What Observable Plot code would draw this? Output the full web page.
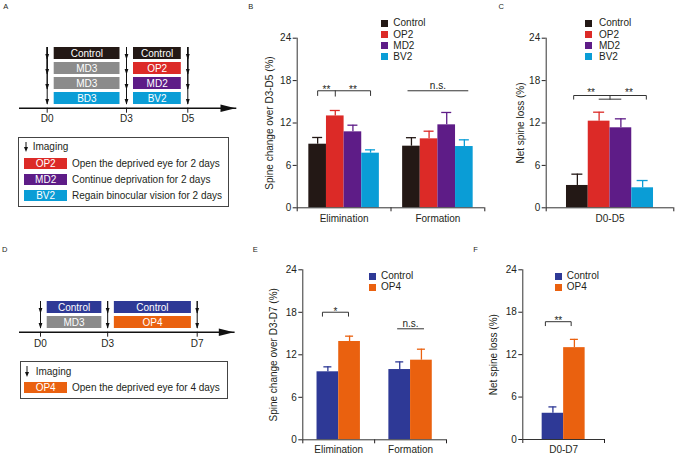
<!DOCTYPE html>
<html><head><meta charset="utf-8">
<script src="https://cdn.jsdelivr.net/npm/d3@7"></script>
<script src="https://cdn.jsdelivr.net/npm/@observablehq/plot@0.6"></script>
<style>
html,body{margin:0;padding:0;background:#fff;}
#fig{position:relative;width:675px;height:455px;overflow:hidden;font-family:"Liberation Sans",Arial,Helvetica,sans-serif;color:#231f20;}
#fig svg{position:absolute;overflow:visible;}
.t{position:absolute;white-space:nowrap;}
</style></head><body><div id="fig"></div>
<script>
// ---------------- data ----------------
const daysA = [0, 3, 5];
const rowsA = [0, 1, 2, 3];
const phase1A = ["Control", "MD3", "MD3", "BD3"];
const phase2A = ["Control", "OP2", "MD2", "BV2"];
const legendKeysA = ["OP2", "MD2", "BV2"];
const legendDescA = ["Open the deprived eye for 2 days", "Continue deprivation for 2 days", "Regain binocular vision for 2 days"];

const daysD = [0, 3, 7];
const rowsD = [0, 1];
const phase1D = ["Control", "MD3"];
const phase2D = ["Control", "OP4"];
const legendKeysD = ["OP4"];
const legendDescD = ["Open the deprived eye for 4 days"];

const groupsBE = ["Elimination", "Formation"];
const condsB = ["Control", "OP2", "MD2", "BV2"];
const elimB = [9.0, 13.0, 10.75, 7.73];
const elimSemB = [0.95, 0.77, 0.94, 0.47];
const formB = [8.72, 9.76, 11.74, 8.67];
const formSemB = [1.2, 1.08, 1.75, 0.95];

const groupC = ["D0-D5"];
const lossC = [3.16, 12.26, 11.32, 2.83];
const lossSemC = [1.6, 1.27, 1.27, 1.03];

const condsE = ["Control", "OP4"];
const elimE = [9.6, 13.88];
const elimSemE = [0.7, 0.75];
const formE = [9.92, 11.24];
const formSemE = [1.08, 1.55];

const groupF = ["D0-D7"];
const lossF = [3.71, 12.99];
const lossSemF = [0.9, 1.17];

const yTicks = [0, 6, 12, 18, 24];

// significance brackets: group, [bar index, value] path
const bracketsB = [
  {group: 0, path: [[0, 15.89], [0, 16.56], [3, 16.56], [3, 15.89]]},
  {group: 0, path: [[1, 16.56], [1, 15.8]]},
  {group: 1, path: [[-0.2, 16.56], [3.2, 16.56]]}
];
const sigB = [
  {group: 0, at: 0.5, y: 16.75, label: "**"},
  {group: 0, at: 2, y: 16.75, label: "**"},
  {group: 1, at: 1.5, y: 17.3, label: "n.s."}
];
const bracketsC = [
  {group: 0, path: [[-0.17, 15.37], [-0.17, 15.89], [3.17, 15.89], [3.17, 15.37]]},
  {group: 0, path: [[1.5, 15.89], [1.5, 15.37]]},
  {group: 0, path: [[1, 15.37], [2, 15.37]]}
];
const sigC = [
  {group: 0, at: 0.63, y: 16.24, label: "**"},
  {group: 0, at: 2.37, y: 16.24, label: "**"}
];
const bracketsE = [
  {group: 0, path: [[-0.25, 17.45], [-0.25, 18.01], [0.95, 18.01], [0.95, 17.45]]},
  {group: 1, path: [[-0.1, 15.67], [1.1, 15.67]]}
];
const sigE = [
  {group: 0, at: 0.35, y: 18.1, label: "*"},
  {group: 1, at: 0.5, y: 16.35, label: "n.s."}
];
const bracketsF = [
  {group: 0, path: [[-0.35, 16.1], [-0.35, 16.66], [0.85, 16.66], [0.85, 16.1]]}
];
const sigF = [
  {group: 0, at: 0.25, y: 16.76, label: "**"}
];

// ---------------- styles ----------------
const colorsA = {Control: "#231815", MD3: "#8b8b8b", OP2: "#dc2a27", MD2: "#5e1c87", BD3: "#0a9dd6", BV2: "#0a9dd6"};
const colorsD = {Control: "#2e3996", MD3: "#8b8b8b", OP4: "#ea610f"};
const INK = "#231f20";
const AXIS = "#333333";
const FONT = '"Liberation Sans", Arial, Helvetica, sans-serif';
const fig = document.getElementById("fig");
const plotStyle = {fontFamily: FONT, fontSize: "10px", color: INK, background: "transparent", overflow: "visible"};

function put(svg, left, top) {
  svg.style.position = "absolute";
  svg.style.left = left + "px";
  svg.style.top = top + "px";
  fig.appendChild(svg);
}
function txt(s, x, cy, {size = 10, anchor = "start", color = INK} = {}) {
  const d = document.createElement("div");
  d.className = "t";
  d.textContent = s;
  d.style.fontSize = size + "px";
  d.style.lineHeight = size + "px";
  d.style.height = size + "px";
  d.style.color = color;
  d.style.top = (cy - size / 2) + "px";
  if (anchor === "middle") { d.style.left = (x - 100) + "px"; d.style.width = "200px"; d.style.textAlign = "center"; }
  else d.style.left = x + "px";
  fig.appendChild(d);
  return d;
}
function box(x, y, w, h, css) {
  const d = document.createElement("div");
  d.style.cssText = `position:absolute;left:${x}px;top:${y}px;width:${w}px;height:${h}px;box-sizing:border-box;${css}`;
  fig.appendChild(d);
  return d;
}
function arrowIcon(x, y1, y2) {
  const s = d3.create("svg").attr("width", 8).attr("height", y2 - y1 + 2);
  const h = y2 - y1;
  s.append("line").attr("x1", 4).attr("x2", 4).attr("y1", 0).attr("y2", h - 3).attr("stroke", "#111").attr("stroke-width", 1);
  s.append("path").attr("d", `M2,${h - 5}L6,${h - 5}L4,${h}Z`).attr("fill", "#111");
  put(s.node(), x - 4, y1);
}

const headSym = {draw(ctx) { ctx.moveTo(-1.9, 0.4); ctx.lineTo(1.9, 0.4); ctx.lineTo(0, 6.2); ctx.closePath(); }};
const bigHead = {draw(ctx) { ctx.moveTo(0, 0); ctx.lineTo(-15, -3.8); ctx.lineTo(-15, 3.8); ctx.closePath(); }};

// ---------------- schematic panels ----------------
function schematic(o) {
  const boxes = o.rows.flatMap(r => [
    {row: r, from: o.days[0], to: o.days[1], label: o.phase1[r]},
    {row: r, from: o.days[1], to: o.days[2], label: o.phase2[r]}
  ]);
  const imaging = o.rows.flatMap(r => o.days.map(d => ({row: r, day: d})));
  const svg = Plot.plot({
    width: o.width, height: o.height,
    marginLeft: o.ml, marginRight: o.mr, marginTop: o.mt, marginBottom: o.mb,
    style: plotStyle,
    x: {type: "linear", domain: o.xDomain, range: o.xRange, ticks: o.days, tickFormat: d => "D" + d, tickSize: 5, tickPadding: o.tickPad, label: null},
    y: {type: "band", domain: o.rows, paddingInner: o.pi, paddingOuter: o.po, axis: null},
    color: {type: "identity"},
    marks: [
      Plot.frame({anchor: "bottom", stroke: "#111", strokeWidth: 1.6}),
      Plot.barX(boxes, {x1: "from", x2: "to", y: "row", fill: d => o.colors[d.label], insetLeft: o.insL, insetRight: o.insR}),
      Plot.text(boxes, {x: d => (d.from + d.to) / 2, y: "row", text: "label", fill: "white", fontSize: 10}),
      Plot.ruleX(imaging, {x: "day", y: "row", stroke: "#111", strokeWidth: 1}),
      Plot.dot(imaging, {x: "day", y: "row", symbol: headSym, fill: "#111", stroke: "none"}),
      Plot.dot([0], {frameAnchor: "bottom-right", symbol: bigHead, fill: "#111", stroke: "none"})
    ]
  });
  put(svg, o.left, o.top);
}

schematic({left: 0, top: 0, width: 240, height: 130, ml: 19.3, mr: 5, mt: 43.3, mb: 22.3,
  days: daysA, rows: rowsA, phase1: phase1A, phase2: phase2A, colors: colorsA,
  xDomain: daysA, xRange: [46.7, 126, 187.3], pi: 0.17, po: 0.155, insL: 7, insR: 6.5, tickPad: 2});
schematic({left: 0, top: 230, width: 240, height: 130, ml: 19.3, mr: 6.7, mt: 67.7, mb: 28.3,
  days: daysD, rows: rowsD, phase1: phase1D, phase2: phase2D, colors: colorsD,
  xDomain: [daysD[0], daysD[2]], xRange: [40, 196.7], pi: 0.2, po: 0.196, insL: 6.7, insR: 5.8, tickPad: 3});

// legends of schematics
function schemLegend(o) {
  box(o.x, o.y, o.w, o.h, "border:1px solid #444;");
  arrowIcon(o.ax, o.ay1, o.ay2);
  txt("Imaging", o.ix, o.iy);
  o.keys.forEach((k, i) => {
    const top = o.firstTop + i * o.step;
    box(24, top, 43.3, o.bh, `background:${o.colors[k]};`);
    txt(k, 24 + 43.3 / 2, top + o.bh / 2, {anchor: "middle", color: "#fff"});
    txt(o.desc[i], 72, top + o.bh / 2);
  });
}
schemLegend({x: 18.3, y: 136.7, w: 211, h: 70, ax: 26, ay1: 141.7, ay2: 151.7, ix: 32.7, iy: 147.3,
  keys: legendKeysA, desc: legendDescA, colors: colorsA, firstTop: 158.3, step: 15.9, bh: 11});
schemLegend({x: 20, y: 360.7, w: 207.7, h: 38.3, ax: 26.7, ay1: 366, ay2: 377, ix: 35.7, iy: 371.7,
  keys: legendKeysD, desc: legendDescD, colors: colorsD, firstTop: 381.7, step: 16, bh: 11.6});

// ---------------- bar panels ----------------
function barPanel(o) {
  const n = o.conds.length, G = o.groups.length;
  const w = (1 - 2 * o.pad) / n;
  const xc = (g, i) => g + o.pad + (i + 0.5) * w;
  const rows = [];
  o.means.forEach((arr, g) => arr.forEach((m, i) => rows.push({g, i, m, e: o.sems[g][i], c: o.colors[i]})));
  const brPts = [];
  o.brackets.forEach((b, k) => b.path.forEach(([i, y]) => brPts.push({k, x: xc(b.group, i), y})));
  const svg = Plot.plot({
    width: o.width, height: o.height,
    marginLeft: o.ml, marginRight: o.mr, marginTop: o.mt, marginBottom: o.mb,
    style: plotStyle,
    x: {type: "linear", domain: [0, G], ticks: d3.range(G + 1), tickFormat: () => "", tickSize: 4, label: null},
    y: {type: "linear", domain: [0, 24], ticks: yTicks, tickSize: 4, tickPadding: 2, label: null},
    color: {type: "identity"},
    marks: [
      Plot.rect(rows, {x1: d => d.g + o.pad + d.i * w, x2: d => d.g + o.pad + (d.i + 1) * w, y1: 0, y2: "m", fill: "c"}),
      Plot.ruleX(rows, {x: d => xc(d.g, d.i), y1: "m", y2: d => d.m + d.e, stroke: "c", strokeWidth: 1.3}),
      Plot.ruleY(rows, {y: d => d.m + d.e, x1: d => xc(d.g, d.i), x2: d => xc(d.g, d.i), insetLeft: -o.cap / 2, insetRight: -o.cap / 2, stroke: "c", strokeWidth: 1.3}),
      Plot.ruleX([0], {stroke: AXIS}),
      Plot.ruleY([0], {stroke: AXIS}),
      Plot.line(brPts, {x: "x", y: "y", z: "k", stroke: AXIS, strokeWidth: 1}),
      Plot.text(o.sig, {x: d => xc(d.group, d.at), y: "y", text: "label", fill: INK}),
      Plot.text(o.groups, {x: (d, i) => i + 0.5, frameAnchor: "bottom", lineAnchor: "middle", textAnchor: "middle", dy: o.gdy, text: d => d, fill: INK}),
      Plot.text([o.ylabel], {frameAnchor: "left", lineAnchor: "middle", textAnchor: "middle", rotate: -90, dx: o.ydx, text: d => d, fill: INK})
    ]
  });
  put(svg, o.left, o.top);
  o.conds.forEach((c, i) => {
    const cy = o.lg.cy + i * o.lg.dy;
    box(o.lg.sx, cy - 3.5, 7, 7, `background:${o.colors[i]};`);
    txt(c, o.lg.tx, cy);
  });
}

barPanel({left: 230, top: 0, width: 260, height: 230, ml: 66.7, mr: 5.7, mt: 37.7, mb: 22.7,
  groups: groupsBE, conds: condsB, means: [elimB, formB], sems: [elimSemB, formSemB],
  colors: condsB.map(c => colorsA[c]), pad: 0.124, cap: 10, gdy: 10.7, ydx: -27.7,
  ylabel: "Spine change over D3-D5 (%)", brackets: bracketsB, sig: sigB,
  lg: {sx: 381, tx: 393.3, cy: 23.3, dy: 11.2}});
barPanel({left: 455, top: 0, width: 220, height: 230, ml: 90.7, mr: 1.7, mt: 37.7, mb: 22.7,
  groups: groupC, conds: condsB, means: [lossC], sems: [lossSemC],
  colors: condsB.map(c => colorsA[c]), pad: 0.159, cap: 11, gdy: 11.4, ydx: -25.4,
  ylabel: "Net spine loss (%)", brackets: bracketsC, sig: sigC,
  lg: {sx: 585, tx: 599, cy: 23.3, dy: 11.2}});
barPanel({left: 240, top: 230, width: 220, height: 225, ml: 62.3, mr: 14, mt: 39.3, mb: 15.7,
  groups: groupsBE, conds: condsE, means: [elimE, formE], sems: [elimSemE, formSemE],
  colors: condsE.map(c => colorsD[c]), pad: 0.198, cap: 8, gdy: 10, ydx: -29,
  ylabel: "Spine change over D3-D7 (%)", brackets: bracketsE, sig: sigE,
  lg: {sx: 369.3, tx: 381, cy: 276, dy: 11.3}});
barPanel({left: 460, top: 230, width: 215, height: 225, ml: 62.3, mr: 71, mt: 39.3, mb: 16,
  groups: groupF, conds: condsE, means: [lossF], sems: [lossSemF],
  colors: condsE.map(c => colorsD[c]), pad: 0.237, cap: 8, gdy: 10, ydx: -29,
  ylabel: "Net spine loss (%)", brackets: bracketsF, sig: sigF,
  lg: {sx: 555, tx: 566.7, cy: 276, dy: 11.3}});

// ---------------- panel letters ----------------
const panelLetters = ["A", "B", "C", "D", "E", "F"];
const letterPos = [[3.3, 6.7], [248.3, 6.7], [498.5, 6.7], [2, 249.5], [252.7, 250], [473.3, 250]];
panelLetters.forEach((L, i) => txt(L, letterPos[i][0], letterPos[i][1], {size: 7.5}));
</script></body></html>
